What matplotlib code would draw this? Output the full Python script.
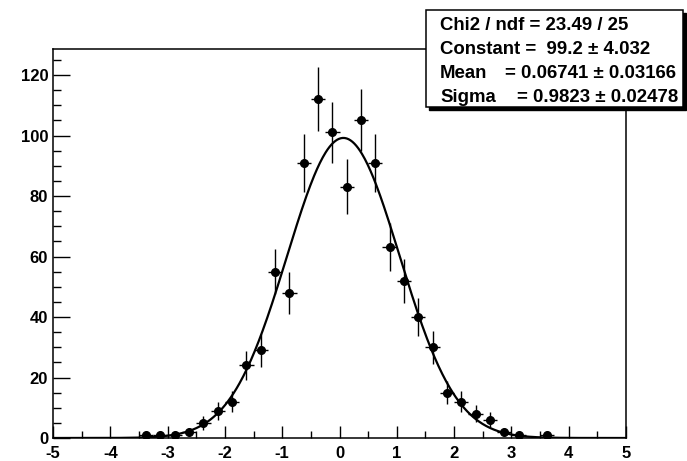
import numpy as np
import matplotlib
matplotlib.use("Agg")
import matplotlib.pyplot as plt

# histogram content (bin width 0.25 from -5 to 5), zero bins not drawn
bin_centers = [-3.375, -3.125, -2.875, -2.625, -2.375, -2.125, -1.875, -1.625,
               -1.375, -1.125, -0.875, -0.625, -0.375, -0.125, 0.125, 0.375,
               0.625, 0.875, 1.125, 1.375, 1.625, 1.875, 2.125, 2.375,
               2.625, 2.875, 3.125, 3.625]
counts = [1, 1, 1, 2, 5, 9, 12, 24,
          29, 55, 48, 91, 112, 101, 83, 105,
          91, 63, 52, 40, 30, 15, 12, 8,
          6, 2, 1, 1]
bin_width = 0.25

# gaus fit parameters
fit_const = 99.2
fit_mean = 0.06741
fit_sigma = 0.9823

stats_lines = [
    ("Chi2 / ndf = 23.49 / 25", ""),
    ("Constant =  99.2 \u00b1 4.032", ""),
    ("Mean", "= 0.06741 \u00b1 0.03166"),
    ("Sigma", "= 0.9823 \u00b1 0.02478"),
]

plt.rcParams['font.family'] = ['Liberation Sans', 'DejaVu Sans']
plt.rcParams['font.weight'] = 'bold'
plt.rcParams['axes.unicode_minus'] = False

W, H = 687, 461
fig = plt.figure(figsize=(W / 100, H / 100), dpi=100)
ax = fig.add_axes([53 / W, (H - 438) / H, (626 - 53) / W, (438 - 49) / H])

x = np.array(bin_centers)
y = np.array(counts)
ax.errorbar(x, y, xerr=bin_width / 2, yerr=np.sqrt(y), fmt='o', color='black',
            markersize=5.5, elinewidth=1.0, capsize=0)

xf = np.linspace(-5, 5, 600)
ax.plot(xf, fit_const * np.exp(-0.5 * ((xf - fit_mean) / fit_sigma) ** 2),
        color='black', linewidth=1.6)

ax.set_xlim(-5, 5)
ax.set_ylim(0, 128.6)
ax.set_xticks(np.arange(-5, 6, 1))
ax.set_xticks(np.arange(-4.5, 5, 1), minor=True)
ax.set_yticks(np.arange(0, 121, 20))
ax.set_yticks(np.arange(0, 128, 5), minor=True)
ax.tick_params(axis='both', which='both', direction='in', labelsize=12)
ax.tick_params(axis='x', which='major', length=8.4, width=1, pad=6)
ax.tick_params(axis='x', which='minor', length=4.8, width=1)
ax.tick_params(axis='y', which='major', length=12, width=1, pad=3.5)
ax.tick_params(axis='y', which='minor', length=6, width=1)
ax.tick_params(top=False, right=False, which='both')
for lab in ax.get_xticklabels() + ax.get_yticklabels():
    lab.set_fontweight('bold')
for sp in ax.spines.values():
    sp.set_linewidth(1.1)

# stats box (pixel coordinates -> figure fraction)
def fx(px):
    return px / W

def fy(py):
    return 1 - py / H

bx0, by0, bx1, by1 = 425.5, 10, 683, 107
shadow = plt.Rectangle((fx(bx0 + 3), fy(by1 + 3)), fx(bx1 - bx0), (by1 - by0) / H,
                       transform=fig.transFigure, facecolor='black',
                       edgecolor='black', zorder=5)
box = plt.Rectangle((fx(bx0), fy(by1)), fx(bx1 - bx0), (by1 - by0) / H,
                    transform=fig.transFigure, facecolor='white',
                    edgecolor='black', linewidth=1.1, zorder=6)
fig.patches.extend([shadow, box])

row_y = [25, 49.5, 74, 98]
value_x = [None, None, 505, 517]
for (label, value), ry, vx in zip(stats_lines, row_y, value_x):
    fig.text(fx(440), fy(ry), label, fontsize=13.4, fontweight='bold',
             va='center', ha='left', zorder=7)
    if value:
        fig.text(fx(vx), fy(ry), value, fontsize=13.4, fontweight='bold',
                 va='center', ha='left', zorder=7)

fig.savefig("out.png", dpi=100)
